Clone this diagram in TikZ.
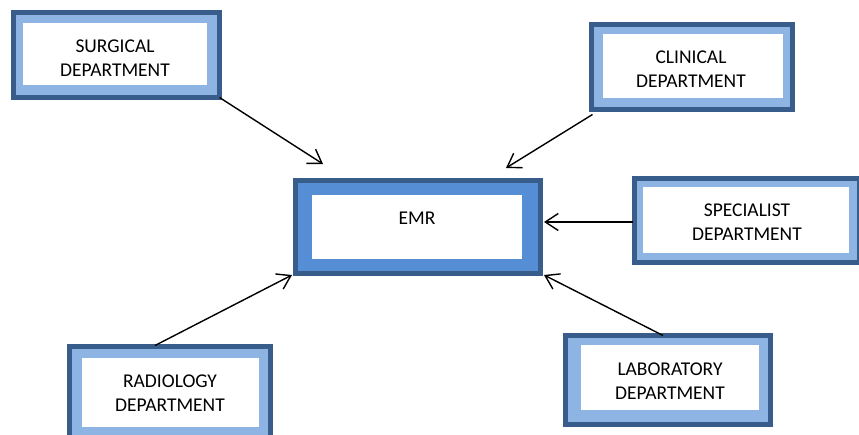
\documentclass[tikz,border=0pt]{standalone}
\usepackage{fontspec}
\setmainfont{Carlito}
\usetikzlibrary{arrows.meta,calc}
\definecolor{dkblue}{HTML}{385D8A}
\definecolor{ltblue}{HTML}{8EB4E3}
\definecolor{mdblue}{HTML}{558ED5}
\begin{document}
\begin{tikzpicture}[x=1pt,y=-1pt,
  outerbox/.style={draw=dkblue, line width=5pt, fill=ltblue, inner sep=0pt, outer sep=0pt},
  emrbox/.style={outerbox, fill=mdblue},
  innerbox/.style={fill=white, inner sep=0pt, outer sep=0pt},
  lbl/.style={align=center, inner sep=0pt, font=\fontsize{19.5}{24}\selectfont},
  arr/.style={draw=black, line width=1.4pt, -{Straight Barb[length=13pt,width=17pt,line width=1.4pt]}}]
\clip (0,0) rectangle (859,434);
\fill[white] (0,0) rectangle (859,434);
% outer boxes
\node[outerbox, minimum width=206pt, minimum height=85pt] (surg) at (116.5,55) {};
\node[outerbox, minimum width=201pt, minimum height=85pt] (clin) at (692,67) {};
\node[outerbox, minimum width=225pt, minimum height=84pt] (spec) at (747,220.5) {};
\node[outerbox, minimum width=201pt, minimum height=91pt] (rad) at (170,392) {};
\node[outerbox, minimum width=205pt, minimum height=89pt] (lab) at (668,380) {};
\node[emrbox, minimum width=245pt, minimum height=93pt] (emr) at (418,227) {};
% white interiors
\node[innerbox, minimum width=184pt, minimum height=62pt] (surgin) at (115,54) {};
\node[innerbox, minimum width=180pt, minimum height=64pt] (clinin) at (693,66) {};
\node[innerbox, minimum width=206pt, minimum height=66pt] (specin) at (746,220) {};
\node[innerbox, minimum width=177pt, minimum height=69pt] (radin) at (170.5,392.5) {};
\node[innerbox, minimum width=178pt, minimum height=65pt] (labin) at (670,377.5) {};
\node[innerbox, minimum width=210pt, minimum height=64pt] (emrin) at (417,227) {};
% labels
\begin{scope}
\clip (23,23) rectangle (207,75);
\node[lbl] (surgt) at (115,58) {SURGICAL\\DEPARTMENT};
\end{scope}
\node[lbl] (clint) at (691,69) {CLINICAL\\DEPARTMENT};
\node[lbl] (spect) at (747,222.5) {SPECIALIST\\DEPARTMENT};
\node[lbl] (radt) at (170,393.5) {RADIOLOGY\\DEPARTMENT};
\node[lbl] (labt) at (670,381.5) {LABORATORY\\DEPARTMENT};
\node[lbl] (emrt) at (417,218.5) {EMR};
% connectors
\draw[arr] (surg.south east) -- ($(emr.north west)+(27.5,-16.5)$);
\draw[arr] ($(clin.south west)+(1,5)$) -- ($(emr.north east)+(-34.5,-12.5)$);
\draw[arr] ($(spec.west)+(-2,1.5)$) -- ($(spec.west -| emr.east)+(3.5,1.5)$);
\draw[arr] ($(rad.north)+(-15,-1)$) -- ($(emr.south west)+(-3.5,1.5)$);
\draw[arr] ($(lab.north)+(-5,0)$) -- ($(emr.south east)+(3.5,1.5)$);
\end{tikzpicture}
\end{document}
